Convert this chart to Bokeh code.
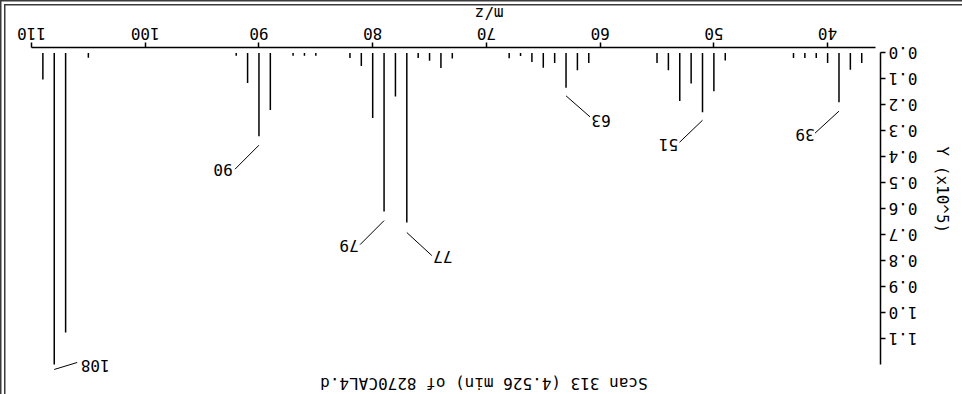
import math
from bokeh.plotting import figure
from bokeh.models import (Range1d, FixedTicker, PrintfTickFormatter, Label, Title,
                          ColumnDataSource)
from bokeh.embed import file_html
from bokeh.resources import INLINE
from bokeh.core.properties import value

# The reference is an upright mass spectrum shown rotated by 180 degrees.
# The chart is built upright and the whole figure is turned with CSS.

# ---- data (abundance in units of 1e5) ----
mz = [37, 38, 39, 40, 41, 42, 43, 49, 50, 51, 52, 53, 54, 55, 61, 62, 63, 64, 65, 66,
      67, 68, 73, 74, 75, 76, 77, 78, 79, 80, 81, 82, 85, 86, 87, 89, 90, 91, 92, 105,
      107, 108, 109]
abundance = [0.038, 0.064, 0.189, 0.038, 0.019, 0.019, 0.019, 0.029, 0.147, 0.228,
             0.117, 0.185, 0.066, 0.038, 0.038, 0.066, 0.134, 0.038, 0.057, 0.035,
             0.012, 0.020, 0.021, 0.058, 0.030, 0.019, 0.652, 0.167, 0.610, 0.250,
             0.050, 0.019, 0.011, 0.011, 0.011, 0.219, 0.320, 0.115, 0.011, 0.018,
             1.075, 1.198, 0.102]
labelled_mz = [39, 51, 63, 77, 79, 90, 108]
x_ticks = [40, 50, 60, 70, 80, 90, 100, 110]
y_ticks = [0.0, 0.1, 0.2, 0.3, 0.4, 0.5, 0.6, 0.7, 0.8, 0.9, 1.0, 1.1]
title_text = "Scan 313 (4.526 min) of 8270CAL4.d"
x_title = "m/z"
y_title = "Y (x10^5)"

# ---- layout (upright screen px) ----
W, H = 962, 394
BL, BR, BT, BB = 80, 32, 0, 48
FW, FH = W - BL - BR, H - BT - BB
X0, X1 = 35.35, 110.0                 # left, right of frame
PX_PER_Y = 260.0
Y0 = -0.02115                         # bottom of frame
Y1 = Y0 + FH / PX_PER_Y               # top of frame
ux = (X1 - X0) / FW                   # data per px rightwards (upright)
uy = 1.0 / PX_PER_Y                   # data per px upwards (upright)

# leader style per labelled peak (upright px): gap, dx, dy(up), label offset dx, dy(up)
leader = {
    39: (9, 24, 22, 10, 2),
    51: (8, 23, 22, 11, 3),
    63: (8, -24, 21, -11, 4),
    77: (10, -25, 23, -11, 1),
    79: (9, 24, 24, 11, 1),
    90: (9, 24, 24, 12, 1),
    108: (5, -23, -7, -18, 4),
}

FONT = "DejaVu Sans Mono"
FS = "16px"

p = figure(width=W, height=H, output_backend="svg", toolbar_location=None,
           x_range=Range1d(X0, X1), y_range=Range1d(Y0, Y1),
           x_axis_location="below", y_axis_location="left",
           min_border_left=BL, min_border_right=BR, min_border_top=BT,
           min_border_bottom=BB)
p.outline_line_color = None
p.grid.visible = False
p.background_fill_color = "white"
p.border_fill_color = None
p.styles = {
    "transform": "rotate(180deg)",
    "box-shadow": "inset -1.5px -1.5px 0 #3a3a3a, inset -4px -4px 0 #ffffff, inset -5.5px -5.5px 0 #3a3a3a",
}

for ax in (p.xaxis[0], p.yaxis[0]):
    ax.major_label_text_font = FONT
    ax.major_label_text_font_size = FS
    ax.major_label_text_color = "black"
    ax.axis_line_color = "black"
    ax.axis_line_width = 1.5
    ax.major_tick_line_color = "black"
    ax.major_tick_line_width = 1.5
    ax.major_tick_in = 0
    ax.major_tick_out = 5
    ax.minor_tick_line_color = None

xa, ya = p.xaxis[0], p.yaxis[0]
xa.ticker = FixedTicker(ticks=x_ticks)
xa.bounds = (35.8, 110)
xa.major_label_standoff = 3
ya.ticker = FixedTicker(ticks=y_ticks)
ya.formatter = PrintfTickFormatter(format="%.1f")
ya.bounds = (0, 1.2)
ya.major_label_standoff = 3

p.add_layout(Title(text=x_title, align="left", offset=377, standoff=0,
                   text_font=FONT, text_font_size=FS, text_font_style="normal",
                   text_color="black"), "below")
p.add_layout(Title(text=y_title, align="left", offset=99, standoff=20, vertical_align="top",
                   text_font=FONT, text_font_size=FS, text_font_style="normal",
                   text_color="black"), "left")

src = ColumnDataSource(dict(x=mz, y0=[0.0] * len(mz), y1=abundance))
p.segment(x0="x", y0="y0", x1="x", y1="y1", source=src, line_color="black", line_width=1.5)

lookup = dict(zip(mz, abundance))
lx0, ly0, lx1, ly1, tx, ty, tt = [], [], [], [], [], [], []
for m in labelled_mz:
    gap, ddx, ddy, ox, oy = leader[m]
    a = lookup[m]
    sx, sy = m, a + gap * uy
    ex, ey = sx + ddx * ux, sy + ddy * uy
    lx0.append(sx); ly0.append(sy); lx1.append(ex); ly1.append(ey)
    tx.append(ex + ox * ux); ty.append(ey + oy * uy); tt.append(str(m))

p.segment(x0=lx0, y0=ly0, x1=lx1, y1=ly1, line_color="black", line_width=1)
p.text(x=tx, y=ty, text=tt, text_align="center", text_baseline="middle",
       text_font=value(FONT), text_font_size=FS, text_color="black")

# scan title (inside the frame, near the upright top edge)
p.add_layout(Label(x=X0 + (477 - BL) * ux, y=Y1 - 10 * uy, text=title_text,
                   text_align="center", text_baseline="middle", text_font=FONT,
                   text_font_size=FS, text_color="black"))

open("out.html", "w").write(file_html(p, INLINE))
